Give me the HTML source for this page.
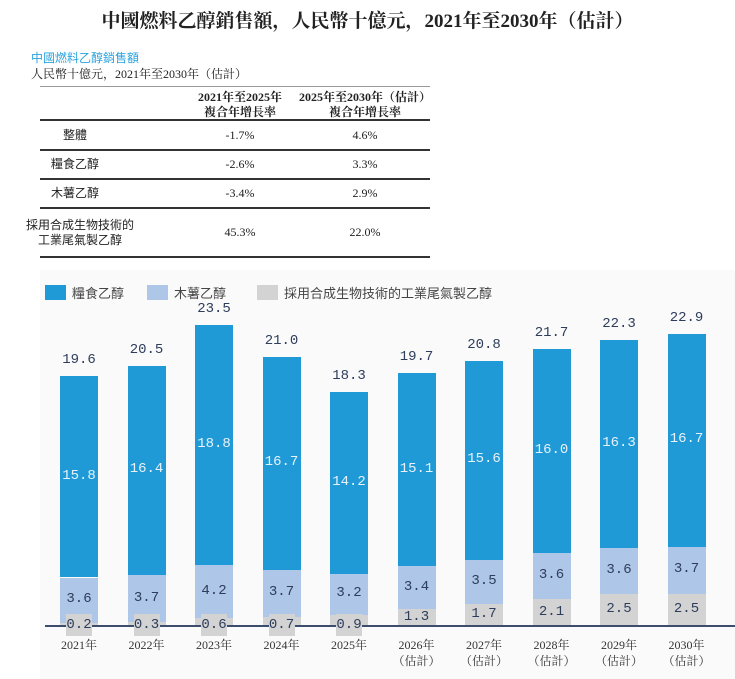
<!DOCTYPE html>
<html><head><meta charset="utf-8"><style>
body{margin:0;width:735px;height:679px;background:#fff;position:relative;overflow:hidden;font-family:"Liberation Serif","Noto Serif CJK SC",serif;color:#222}
.a{position:absolute;white-space:nowrap}
.panel{position:absolute;left:40px;top:270px;width:695px;height:409px;background:#fafafa}
.ln{position:absolute;left:40px;width:390px;background:#333}
.c{position:absolute;text-align:center;font-size:12px;line-height:15px;white-space:nowrap}
.cjk{font-family:"Liberation Sans","Noto Sans CJK TC",sans-serif}
.lab{position:absolute;width:60px;text-align:center;font-family:"Liberation Mono","Noto Sans CJK SC",monospace;font-size:14px;color:#2e3d5c}
</style></head><body>
<div class="a" style="left:0;width:735px;text-align:center;top:6px;font-size:19px;font-weight:bold;font-family:'Liberation Serif','Noto Serif CJK SC',serif">中國燃料乙醇銷售額，人民幣十億元，2021年至2030年（估計）</div>
<div class="a cjk" style="left:31px;top:49px;font-size:12px;color:#29a3dd">中國燃料乙醇銷售額</div>
<div class="a" style="left:31px;top:65px;font-size:12px">人民幣十億元，2021年至2030年（估計）</div>
<div class="ln" style="top:86px;height:1px;background:#999"></div>
<div class="c" style="left:180px;width:120px;top:90px;font-weight:bold">2021年至2025年<br>複合年增長率</div>
<div class="c" style="left:290px;width:150px;top:90px;font-weight:bold">2025年至2030年（估計）<br>複合年增長率</div>
<div class="ln" style="top:119px;height:2px"></div>
<div class="c cjk" style="left:35px;width:80px;top:128px">整體</div>
<div class="c" style="left:190px;width:100px;top:128px">-1.7%</div>
<div class="c" style="left:315px;width:100px;top:128px">4.6%</div>
<div class="ln" style="top:149px;height:2px"></div>
<div class="c cjk" style="left:35px;width:80px;top:157px">糧食乙醇</div>
<div class="c" style="left:190px;width:100px;top:157px">-2.6%</div>
<div class="c" style="left:315px;width:100px;top:157px">3.3%</div>
<div class="ln" style="top:178px;height:2px"></div>
<div class="c cjk" style="left:35px;width:80px;top:186px">木薯乙醇</div>
<div class="c" style="left:190px;width:100px;top:186px">-3.4%</div>
<div class="c" style="left:315px;width:100px;top:186px">2.9%</div>
<div class="ln" style="top:207px;height:2px"></div>
<div class="c cjk" style="left:25px;width:110px;top:218px">採用合成生物技術的<br>工業尾氣製乙醇</div>
<div class="c" style="left:190px;width:100px;top:225px">45.3%</div>
<div class="c" style="left:315px;width:100px;top:225px">22.0%</div>
<div class="ln" style="top:256px;height:2px"></div>
<div class="panel"></div>
<div class="a" style="left:45px;top:285px;width:21px;height:15px;background:#1f9ad6"></div>
<div class="a cjk" style="left:72px;top:283px;font-size:13px;color:#444">糧食乙醇</div>
<div class="a" style="left:147px;top:285px;width:21px;height:15px;background:#aec6e8"></div>
<div class="a cjk" style="left:174px;top:283px;font-size:13px;color:#444">木薯乙醇</div>
<div class="a" style="left:257px;top:285px;width:21px;height:15px;background:#d3d3d3"></div>
<div class="a cjk" style="left:284px;top:283px;font-size:13px;color:#444">採用合成生物技術的工業尾氣製乙醇</div>
<div id="ch"></div>
<script>
var d=[[15.8,3.6,0.2,"19.6"],[16.4,3.7,0.3,"20.5"],[18.8,4.2,0.6,"23.5"],[16.7,3.7,0.7,"21.0"],[14.2,3.2,0.9,"18.3"],[15.1,3.4,1.3,"19.7"],[15.6,3.5,1.7,"20.8"],[16.0,3.6,2.1,"21.7"],[16.3,3.6,2.5,"22.3"],[16.7,3.7,2.5,"22.9"]];
var h="",B=626,s=12.76,post="";
d.forEach(function(v,i){
 var x=60+i*67.5,w=38;
 var g=v[2]*s,l=v[1]*s,b=v[0]*s;
 var tot=g+l+b;
 h+='<div class="a" style="left:'+x+'px;top:'+(B-g)+'px;width:'+w+'px;height:'+g+'px;background:#d3d3d3"></div>';
 h+='<div class="a" style="left:'+x+'px;top:'+(B-g-l)+'px;width:'+w+'px;height:'+l+'px;background:#aec6e8"></div>';
 h+='<div class="a" style="left:'+x+'px;top:'+(B-tot)+'px;width:'+w+'px;height:'+b+'px;background:#1f9ad6"></div>';
 var cx=x+w/2-30;
 h+='<div class="lab" style="left:'+cx+'px;top:'+(B-tot-24)+'px">'+v[3]+'</div>';
 h+='<div class="lab" style="left:'+cx+'px;top:'+(B-g-l-b/2-9)+'px;color:#e8f2fa">'+v[0].toFixed(1)+'</div>';
 h+='<div class="lab" style="left:'+cx+'px;top:'+(B-g-l/2-9)+'px">'+v[1].toFixed(1)+'</div>';
 if(v[2]<1){
  post+='<div class="a" style="left:'+(x+6)+'px;top:'+(B-12)+'px;width:'+(w-12)+'px;height:22px;background:#d3d3d3"></div>';
  post+='<div class="lab" style="left:'+cx+'px;top:'+(B-9)+'px">'+v[2].toFixed(1)+'</div>';
 } else {
  h+='<div class="lab" style="left:'+cx+'px;top:'+(B-g/2-9)+'px">'+v[2].toFixed(1)+'</div>';
 }
 var y=2021+i;
 h+='<div class="a" style="left:'+(cx)+'px;width:60px;text-align:center;top:637px;font-size:12px;line-height:16px;color:#333">'+y+'年'+(i>=5?'<br>（估計）':'')+'</div>';
});
h+='<div class="a" style="left:45px;top:625px;width:690px;height:2px;background:#3d4d6e"></div>';
document.getElementById("ch").innerHTML=h+post;
</script>
</body></html>
